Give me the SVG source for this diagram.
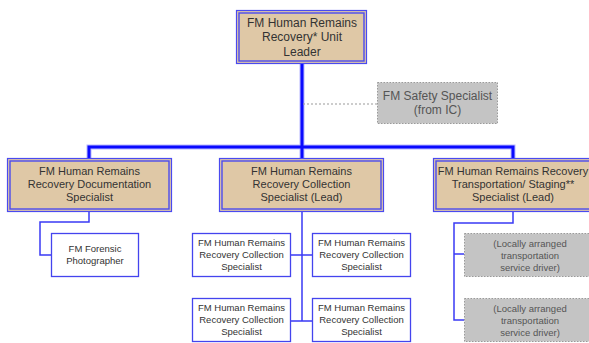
<svg xmlns="http://www.w3.org/2000/svg" width="589" height="343" viewBox="0 0 589 343">
  <style>
    .bg { fill: #ffffff; }
    .main { fill: #dfc8a6; stroke: #4a4af0; stroke-width: 1.2; }
    .inner { fill: none; stroke: #4a4af0; stroke-width: 1.4; }
    .sub { fill: #ffffff; stroke: #4444ee; stroke-width: 1.3; }
    .ext { fill: #c4c4c4; stroke: #9a9a9a; stroke-width: 1; stroke-dasharray: 1.5 1.5; }
    .trunk { fill: none; stroke: #0a0aff; stroke-width: 3; }
    .halo { fill: none; stroke: #b8b8ff; stroke-width: 5; }
    .branch { fill: none; stroke: #3a3af5; stroke-width: 1.5; }
    .dash { fill: none; stroke: #999999; stroke-width: 1; stroke-dasharray: 2 2; }
    text { font-family: "Liberation Sans", Arial, sans-serif; text-anchor: middle; }
    .t0 { font-size: 12px; fill: #333333; }
    .t1 { font-size: 11px; fill: #333333; }
    .t2 { font-size: 9.5px; fill: #333333; }
    .tg { font-size: 12px; fill: #555555; }
    .tg2 { font-size: 9.5px; fill: #555555; }
  </style>
  <rect class="bg" x="0" y="0" width="589" height="343"/>

  <!-- connectors -->
  <g id="connectors">
    <path class="halo" d="M302 64 V147 M89 158 V147 H513 V158 M302 147 V158"/>
    <path class="trunk" d="M302 64 V147 M89 158 V147 H513 V158 M302 147 V158"/>
    <path class="dash" d="M303 104 H377"/>
    <path class="branch" d="M89 212 V222 H40 V255 H51"/>
    <path class="branch" d="M302 212 V321 M291 255 H312 M291 321 H312"/>
    <path class="branch" d="M513 212 V223 H454 V320 H464 M454 254 H464"/>
  </g>

  <!-- top -->
  <g id="unit-leader">
    <rect class="main" x="236.5" y="10.5" width="130" height="53"/>
    <rect class="inner" x="239" y="13" width="125" height="48"/>
    <text class="t0" x="302" y="27">FM Human Remains</text>
    <text class="t0" x="302" y="41">Recovery* Unit</text>
    <text class="t0" x="302" y="56">Leader</text>
  </g>

  <g id="safety-specialist">
    <rect class="ext" x="377.5" y="82.5" width="120" height="41"/>
    <text class="tg" x="437.5" y="100">FM Safety Specialist</text>
    <text class="tg" x="437.5" y="114">(from IC)</text>
  </g>

  <!-- second level -->
  <g id="documentation-specialist">
    <rect class="main" x="7.5" y="158.5" width="164" height="53"/>
    <rect class="inner" x="10" y="161" width="159" height="48"/>
    <text class="t1" x="89.5" y="175">FM Human Remains</text>
    <text class="t1" x="89.5" y="188">Recovery Documentation</text>
    <text class="t1" x="89.5" y="201">Specialist</text>
  </g>

  <g id="collection-lead">
    <rect class="main" x="219.5" y="158.5" width="164" height="53"/>
    <rect class="inner" x="222" y="161" width="159" height="48"/>
    <text class="t1" x="301.5" y="175">FM Human Remains</text>
    <text class="t1" x="301.5" y="188">Recovery Collection</text>
    <text class="t1" x="301.5" y="201">Specialist (Lead)</text>
  </g>

  <g id="transportation-lead">
    <rect class="main" x="433.5" y="158.5" width="160" height="53"/>
    <rect class="inner" x="436" y="161" width="160" height="48"/>
    <text class="t1" x="513" y="175">FM Human Remains Recovery</text>
    <text class="t1" x="513" y="188">Transportation/ Staging**</text>
    <text class="t1" x="513" y="201">Specialist (Lead)</text>
  </g>

  <!-- third level -->
  <g id="forensic-photographer">
    <rect class="sub" x="51.5" y="233.5" width="87" height="43"/>
    <text class="t2" x="95" y="252">FM Forensic</text>
    <text class="t2" x="95" y="264">Photographer</text>
  </g>

  <g id="collection-specialist-1">
    <rect class="sub" x="192.5" y="233.5" width="98" height="43"/>
    <text class="t2" x="241.5" y="246">FM Human Remains</text>
    <text class="t2" x="241.5" y="258">Recovery Collection</text>
    <text class="t2" x="241.5" y="270">Specialist</text>
  </g>
  <g id="collection-specialist-2">
    <rect class="sub" x="312.5" y="233.5" width="98" height="43"/>
    <text class="t2" x="361.5" y="246">FM Human Remains</text>
    <text class="t2" x="361.5" y="258">Recovery Collection</text>
    <text class="t2" x="361.5" y="270">Specialist</text>
  </g>
  <g id="collection-specialist-3">
    <rect class="sub" x="192.5" y="298.5" width="98" height="43"/>
    <text class="t2" x="241.5" y="311">FM Human Remains</text>
    <text class="t2" x="241.5" y="323">Recovery Collection</text>
    <text class="t2" x="241.5" y="335">Specialist</text>
  </g>
  <g id="collection-specialist-4">
    <rect class="sub" x="312.5" y="298.5" width="98" height="43"/>
    <text class="t2" x="361.5" y="311">FM Human Remains</text>
    <text class="t2" x="361.5" y="323">Recovery Collection</text>
    <text class="t2" x="361.5" y="335">Specialist</text>
  </g>

  <g id="transport-driver-1">
    <rect class="ext" x="464.5" y="233.5" width="130" height="43"/>
    <text class="tg2" x="530" y="247">(Locally arranged</text>
    <text class="tg2" x="530" y="259">transportation</text>
    <text class="tg2" x="530" y="271">service driver)</text>
  </g>
  <g id="transport-driver-2">
    <rect class="ext" x="464.5" y="298.5" width="130" height="43"/>
    <text class="tg2" x="530" y="312">(Locally arranged</text>
    <text class="tg2" x="530" y="324">transportation</text>
    <text class="tg2" x="530" y="336">service driver)</text>
  </g>
</svg>
